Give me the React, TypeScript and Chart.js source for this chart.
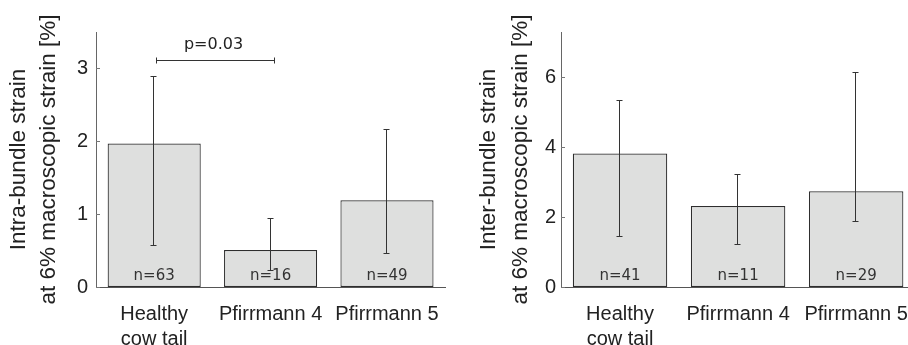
import React, { useEffect, useRef } from "react";
import { Chart, registerables } from "chart.js";

Chart.register(...registerables);

// ---- data ----
const categories: (string | string[])[] = [["Healthy", "cow tail"], "Pfirrmann 4", "Pfirrmann 5"];

const intraMean = [1.97, 0.507, 1.19];
const intraLow = [0.575, 0.24, 0.46];
const intraHigh = [2.89, 0.95, 2.17];
const intraN = ["n=63", "n=16", "n=49"];
const intraTicks = [0, 1, 2, 3];
const intraMax = 3.5;
const intraTitle = ["Intra-bundle strain", "at 6% macroscopic strain [%]"];

const interMean = [3.82, 2.32, 2.74];
const interLow = [1.47, 1.22, 1.89];
const interHigh = [5.36, 3.23, 6.15];
const interN = ["n=41", "n=11", "n=29"];
const interTicks = [0, 2, 4, 6];
const interMax = 7.3;
const interTitle = ["Inter-bundle strain", "at 6% macroscopic strain [%]"];

const pText = "p=0.03";
const pLevel = 3.12;
const pPair = [0, 1];

const SANS = '"Liberation Sans", Arial, sans-serif';
const DEJAVU = '"DejaVu Sans", sans-serif';

const overlayPlugin = {
  id: "overlay",
  afterDatasetsDraw(chart: any, _args: any, opts: any) {
    const { ctx, chartArea } = chart;
    const x = chart.scales.x;
    const y = chart.scales.y;
    ctx.save();
    // y-axis title (drawn manually so it is not squeezed)
    ctx.fillStyle = "#222";
    ctx.font = `22.5px ${SANS}`;
    ctx.textAlign = "center";
    ctx.textBaseline = "alphabetic";
    const cy = (chartArea.top + chartArea.bottom) / 2;
    (opts.title || []).forEach((line: string, i: number) => {
      ctx.save();
      ctx.translate(opts.titleBase[i], cy);
      ctx.rotate(-Math.PI / 2);
      ctx.fillText(line, 0, 0);
      ctx.restore();
    });
    // inward tick marks on y axis
    ctx.strokeStyle = "#777";
    ctx.lineWidth = 1;
    (opts.ticks || []).forEach((v: number) => {
      const py = Math.round(y.getPixelForValue(v)) + 0.5;
      ctx.beginPath();
      ctx.moveTo(chartArea.left, py);
      ctx.lineTo(chartArea.left + 4, py);
      ctx.stroke();
    });
    // error bars
    ctx.strokeStyle = "#333";
    (opts.low || []).forEach((lo: number, i: number) => {
      const hi = opts.high[i];
      const px = Math.round(x.getPixelForValue(i)) - 0.5;
      const y1 = Math.round(y.getPixelForValue(hi)) + 0.5;
      const y2 = Math.round(y.getPixelForValue(lo)) + 0.5;
      ctx.beginPath();
      ctx.moveTo(px, y1);
      ctx.lineTo(px, y2);
      ctx.moveTo(px - 3, y1);
      ctx.lineTo(px + 3, y1);
      ctx.moveTo(px - 3, y2);
      ctx.lineTo(px + 3, y2);
      ctx.stroke();
    });
    // n labels
    ctx.font = `15px ${DEJAVU}`;
    ctx.fillStyle = "#333";
    ctx.textAlign = "center";
    ctx.textBaseline = "alphabetic";
    (opts.n || []).forEach((t: string, i: number) => {
      ctx.fillText(t, x.getPixelForValue(i), y.getPixelForValue(0) - 7);
    });
    // significance bracket
    if (opts.p) {
      const by = Math.round(y.getPixelForValue(opts.p.level)) + 0.5;
      const x1 = Math.round(x.getPixelForValue(opts.p.pair[0])) + 2.5;
      const x2 = Math.round(x.getPixelForValue(opts.p.pair[1])) + 3.5;
      ctx.strokeStyle = "#333";
      ctx.beginPath();
      ctx.moveTo(x1, by);
      ctx.lineTo(x2, by);
      ctx.moveTo(x1, by - 3);
      ctx.lineTo(x1, by + 3);
      ctx.moveTo(x2, by - 3);
      ctx.lineTo(x2, by + 3);
      ctx.stroke();
      ctx.font = `16px ${DEJAVU}`;
      ctx.fillStyle = "#222";
      ctx.fillText(opts.p.text, (x1 + x2) / 2 - 2, by - 12);
    }
    ctx.restore();
  },
};

type PanelProps = {
  left: number;
  width: number;
  mean: number[];
  low: number[];
  high: number[];
  n: string[];
  ticks: number[];
  max: number;
  title: string[];
  titleBase: number[];
  yWidth: number;
  tickPad: number;
  padRight: number;
  p?: any;
};

function Panel(props: PanelProps) {
  const ref = useRef<HTMLCanvasElement>(null);
  useEffect(() => {
    if (!ref.current) return;
    const chart = new Chart(ref.current, {
      type: "bar",
      data: {
        labels: categories,
        datasets: [
          {
            data: props.mean,
            backgroundColor: "#dedfde",
            borderColor: "#2e2e2e",
            borderWidth: 1.2,
            borderSkipped: false,
            inflateAmount: 0,
            barPercentage: 0.8,
            categoryPercentage: 1,
          },
        ],
      },
      options: {
        responsive: false,
        animation: false,
        devicePixelRatio: 1,
        layout: { padding: { top: 32, left: 0, right: props.padRight, bottom: 0 } },
        plugins: {
          legend: { display: false },
          tooltip: { enabled: false },
          overlay: {
            ticks: props.ticks,
            low: props.low,
            high: props.high,
            n: props.n,
            p: props.p,
            title: props.title,
            titleBase: props.titleBase,
          },
        } as any,
        scales: {
          x: {
            offset: true,
            grid: { display: false, drawTicks: false },
            border: { display: true, color: "#555", width: 1 },
            ticks: {
              color: "#222",
              font: { family: SANS, size: 20, lineHeight: 1.25 },
              padding: 15,
              maxRotation: 0,
              autoSkip: false,
            },
            afterFit: (s: any) => {
              s.height = 58;
            },
          },
          y: {
            min: 0,
            max: props.max,
            grid: { display: false, drawTicks: false },
            border: { display: true, color: "#666", width: 1 },
            ticks: {
              color: "#222",
              font: { family: SANS, size: 20 },
              padding: props.tickPad,
            },
            afterBuildTicks: (s: any) => {
              s.ticks = props.ticks.map((v) => ({ value: v }));
            },
            afterFit: (s: any) => {
              s.width = props.yWidth;
            },
          },
        },
      },
      plugins: [overlayPlugin],
    } as any);
    return () => chart.destroy();
  }, []);
  return (
    <canvas
      ref={ref}
      width={props.width}
      height={345}
      style={{ position: "absolute", left: props.left, top: 0, width: props.width, height: 345 }}
    />
  );
}

export default function App() {
  return (
    <div
      style={{
        position: "fixed",
        left: 0,
        top: 0,
        width: 908,
        height: 345,
        overflow: "hidden",
        background: "#fff",
      }}
    >
      <Panel
        left={0}
        width={454}
        mean={intraMean}
        low={intraLow}
        high={intraHigh}
        n={intraN}
        ticks={intraTicks}
        max={intraMax}
        title={intraTitle}
        titleBase={[25, 55]}
        yWidth={96}
        tickPad={8}
        padRight={2}
        p={{ text: pText, level: pLevel, pair: pPair }}
      />
      <Panel
        left={454}
        width={470}
        mean={interMean}
        low={interLow}
        high={interHigh}
        n={interN}
        ticks={interTicks}
        max={interMax}
        title={interTitle}
        titleBase={[41, 73]}
        yWidth={107}
        tickPad={5}
        padRight={7}
      />
    </div>
  );
}
